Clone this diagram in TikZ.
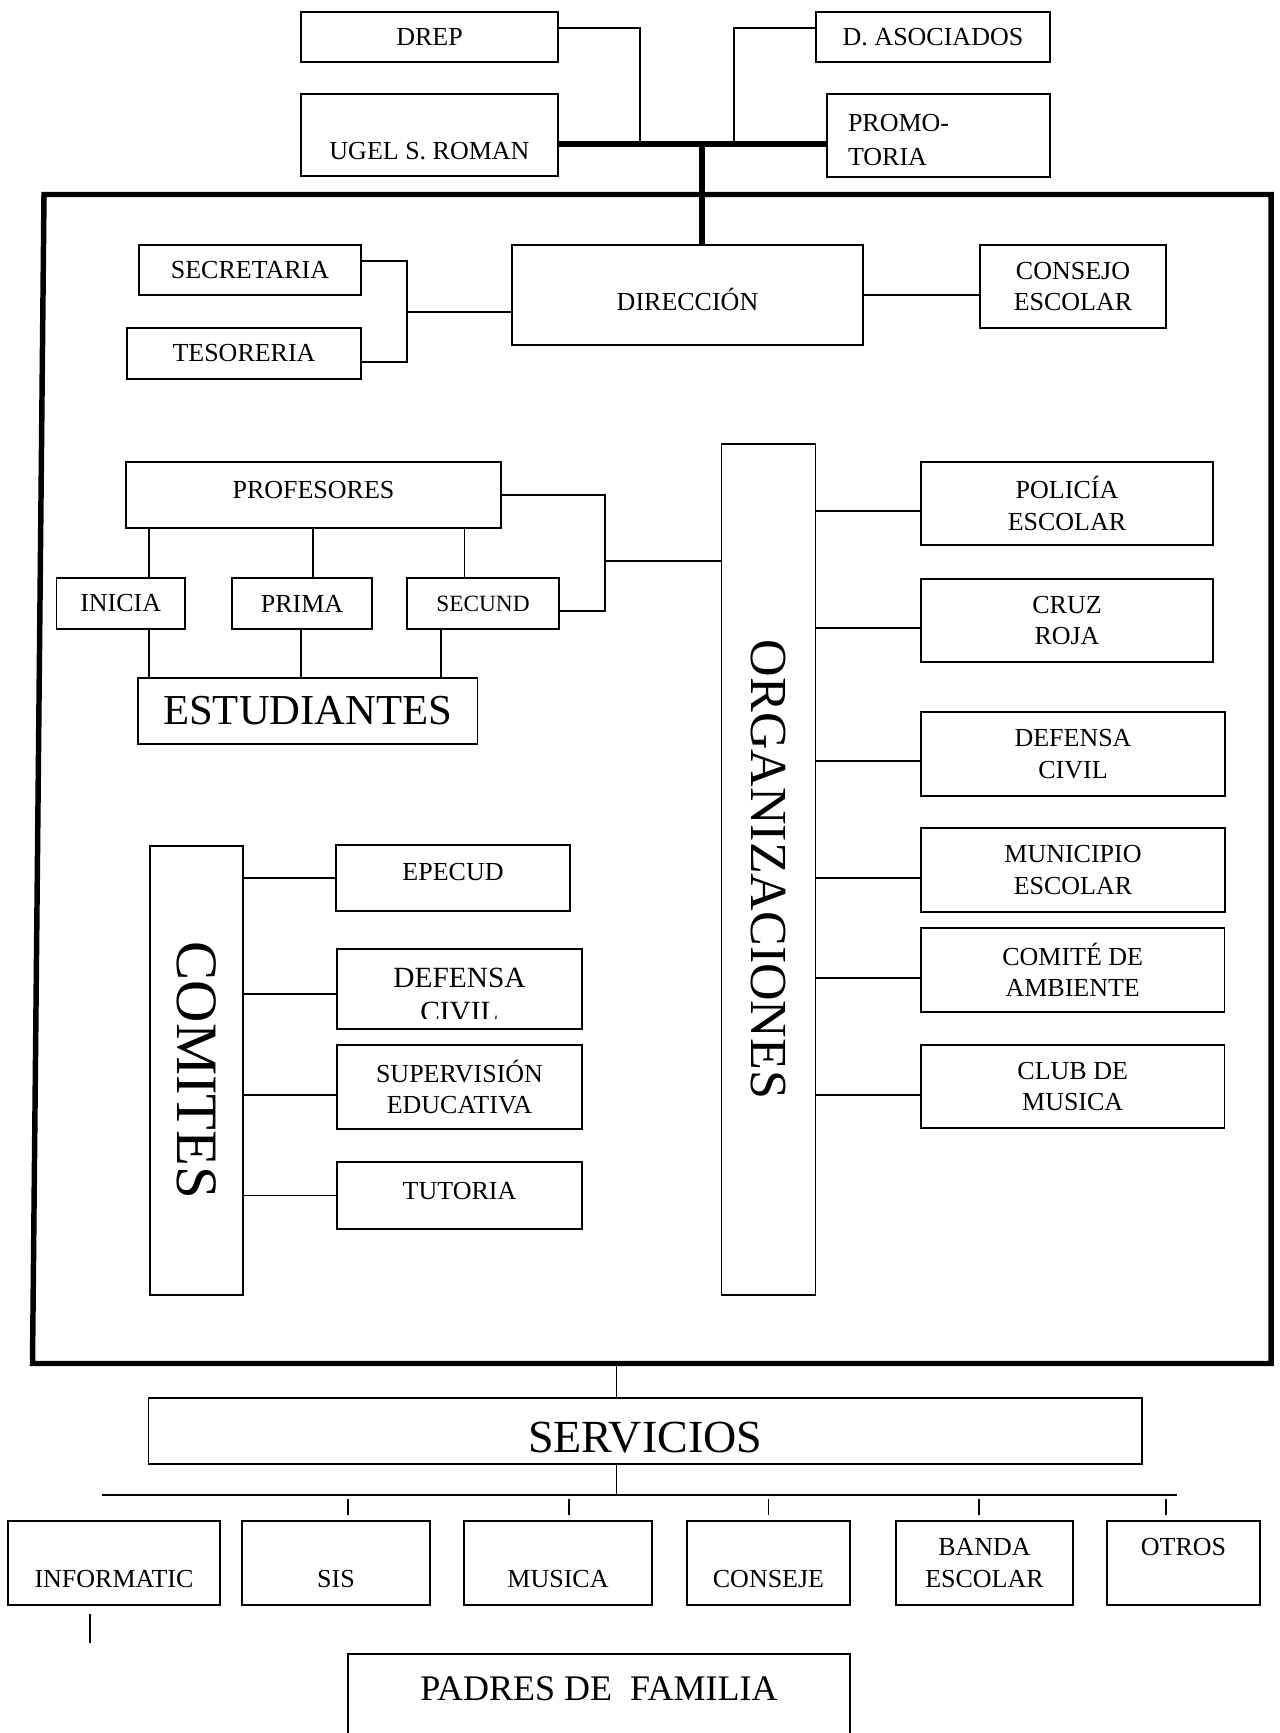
\documentclass[tikz,border=0pt]{standalone}
\usepackage{fontspec}
\setmainfont{Liberation Serif}
\usepackage{graphicx}
\begin{document}
\begin{tikzpicture}[x=0.75pt,y=-0.75pt,
  every node/.style={font=\fontsize{19.5}{23.5}\selectfont},
  box/.style={draw, line width=1.2pt, inner sep=0pt, align=center},
  sz/.style 2 args={minimum width=#1*0.75pt, minimum height=#2*0.75pt},
  ln/.style={line width=1.1pt},
  heavy/.style={line width=4pt},
  frm/.style={line width=4.1pt, line join=miter}]
\useasboundingbox (0,0) rectangle (1279,1733);
\clip (0,0) rectangle (1279,1733);
% top
\node[box, sz={257}{50}] (drep) at (429.5,37) {DREP};
\node[box, sz={234}{50}] (dasoc) at (933,37) {D. ASOCIADOS};
\node[box, sz={257}{82}] (ugel) at (429.5,135) {\vphantom{A}\\UGEL S. ROMAN};
\node[box, sz={223}{83}, align=left, text width=135.75pt, inner xsep=15.75pt,
      font=\fontsize{19.5}{25}\selectfont] (promo) at (938.5,135.5) {\rule{0pt}{19.5pt}PROMO-\\TORIA};
% frame
\draw[frm] (44,194.5) -- (1271,194.5) -- (1271,1363.5) -- (32.5,1363.5) -- cycle;
% direction
\node[box, sz={222}{50}] (sec) at (250,270) {SECRETARIA};
\node[box, sz={234}{51}] (tes) at (244,353.5) {TESORERIA};
\node[box, sz={351}{100}, text height=23.3pt, text depth=0pt] (dir) at (687.5,295) {DIRECCIÓN};
\node[box, sz={186}{83}] (cons) at (1073,286.5) {CONSEJO\\ESCOLAR};
% teachers
\node[box, sz={375}{66}, text height=5.25pt, text depth=0pt] (prof) at (313.5,495) {PROFESORES};
\node[box, sz={128.5}{51}] (ini) at (120.75,603.5) {INICIA};
\node[box, sz={140}{51}] (prim) at (302,603.5) {PRIMA};
\node[box, sz={152}{51}, font=\fontsize{17.5}{21}\selectfont] (secu) at (483,603.5) {SECUND};
\node[box, sz={339.5}{66}, font=\fontsize{32}{38}\selectfont] (est) at (307.75,711) {ESTUDIANTES};
% organizations
\node[box, sz={94}{851}] (org) at (768.5,869.5) {\rotatebox{-90}{\fontsize{39}{46}\selectfont ORGANIZACIONES}};
\node[box, sz={292}{83}] (pol) at (1067,503.5) {POLICÍA\\ESCOLAR};
\node[box, sz={292}{83}] (cruz) at (1067,620.5) {CRUZ\\ROJA};
\node[box, sz={304.5}{84}] (defr) at (1073,754) {DEFENSA\\CIVIL};
\node[box, sz={304.5}{84}] (mun) at (1073,870) {MUNICIPIO\\ESCOLAR};
\node[box, sz={303.5}{84}] (amb) at (1072.7,970) {COMITÉ DE\\AMBIENTE};
\node[box, sz={303.5}{83}] (club) at (1072.7,1086.5) {CLUB DE\\MUSICA};
% committees
\node[box, sz={93}{449}] (com) at (196.5,1070.5) {\rotatebox{-90}{\fontsize{44}{52}\selectfont COMITES}};
\node[box, sz={234}{66}, text height=3.75pt, text depth=0pt] (epe) at (453,878) {EPECUD};
\node[box, sz={245}{80}, path picture={
  \clip (path picture bounding box.north west) rectangle ([yshift=8.25pt]path picture bounding box.south east);
  \node[draw=none, fill=none, inner sep=0pt, minimum width=0pt, minimum height=0pt, align=center,
        font=\fontsize{22}{25.5}\selectfont, yshift=-4.5pt] (cdeft) at (path picture bounding box.center) {DEFENSA\\CIVIL};
}] (cdef) at (459.5,989) {};
\node[box, sz={245}{84}] (sup) at (459.5,1087) {SUPERVISIÓN\\EDUCATIVA};
\node[box, sz={245}{67}, text height=5.25pt, text depth=0pt] (tut) at (459.5,1195.5) {TUTORIA};
% services
\node[box, sz={993.5}{66}, font=\fontsize{34.5}{41}\selectfont, text height=31.6pt, text depth=0pt] (serv) at (645.25,1431) {SERVICIOS};
\node[box, sz={212}{84}] (inf) at (114,1563) {\vphantom{A}\\INFORMATIC};
\node[box, sz={188}{84}] (sis) at (336,1563) {\vphantom{A}\\SIS};
\node[box, sz={188}{84}] (mus) at (558,1563) {\vphantom{A}\\MUSICA};
\node[box, sz={163}{84}] (conse) at (768.5,1563) {\vphantom{A}\\CONSEJE};
\node[box, sz={177}{84}] (banda) at (984.5,1563) {BANDA\\ESCOLAR};
\node[box, sz={153}{84}] (otros) at (1183.5,1563) {OTROS\\\vphantom{A}};
\node[box, sz={502}{106}, font=\fontsize{27}{32}\selectfont, text height=0pt, text depth=10pt] (pad) at (599,1707) {PADRES DE\ \ FAMILIA};
% connectors top
\coordinate (bar) at (702,144);
\coordinate (jd) at (640,144);
\coordinate (ja) at (734,144);
\draw[heavy] (bar -| ugel.east) -- (bar -| promo.west);
\draw[heavy] (bar) -- (bar |- dir.north);
\draw[ln] ([yshift=6.75pt]drep.east) -| (jd);
\draw[ln] ([yshift=6.75pt]dasoc.west) -| (ja);
% direction connectors
\coordinate (jst) at (407,312);
\draw[ln] ([yshift=6.75pt]sec.east) -| (jst) |- ([yshift=-6.4pt]tes.east);
\draw[ln] (jst) -- (jst -| dir.west);
\draw[ln] (dir.east) -- (dir.east -| cons.west);
% teachers connectors
\draw[ln] ([xshift=21.2pt]ini.north) -- ([xshift=21.2pt]ini.north |- prof.south);
\draw[ln] ([xshift=21.2pt]ini.south) -- ([xshift=21.2pt]ini.south |- est.north);
\draw[ln] ([xshift=8.25pt]prim.north) -- ([xshift=8.25pt]prim.north |- prof.south);
\draw[ln] ([xshift=-0.75pt]prim.south) -- ([xshift=-0.75pt]prim.south |- est.north);
\draw[ln] ([xshift=-13.9pt]secu.north) -- ([xshift=-13.9pt]secu.north |- prof.south);
\draw[ln] ([xshift=-31.5pt]secu.south) -- ([xshift=-31.5pt]secu.south |- est.north);
\coordinate (jpo) at (605,561);
\draw[ln] (prof.east) -| (jpo) |- ([yshift=-5.6pt]secu.east);
\draw[ln] (jpo) -- (jpo -| org.west);
% organizations connectors
\foreach \n/\s in {pol/-5.6pt, cruz/-5.6pt, defr/-5.25pt, mun/-6pt, amb/-6pt, club/-6.4pt}
  \draw[ln] ([yshift=\s]\n.west) -- ([yshift=\s]\n.west -| org.east);
% committees connectors
\foreach \n/\s in {epe/0pt, cdef/-3.75pt, sup/-6pt, tut/0pt}
  \draw[ln] ([yshift=\s]\n.west) -- ([yshift=\s]\n.west -| com.east);
% services connectors
\coordinate (fb) at (616.6,1363.5);
\draw[ln] (fb) -- (fb |- serv.north);
\coordinate (hj) at (616.6,1495);
\draw[ln] (hj |- serv.south) -- (hj);
\coordinate (hl) at (102,1495);
\coordinate (hr) at (1177,1495);
\draw[ln] (hl) -- (hr);
\foreach \n/\s in {sis/9pt, mus/8.25pt, conse/0pt, banda/-4.1pt, otros/-13.1pt}
  \draw[ln] ([xshift=\s,yshift=15.75pt]\n.north) -- ([xshift=\s,yshift=3.75pt]\n.north);
\draw[ln] ([xshift=-18pt,yshift=-6pt]inf.south) -- ([xshift=-18pt,yshift=-27.75pt]inf.south);
\end{tikzpicture}
\end{document}
